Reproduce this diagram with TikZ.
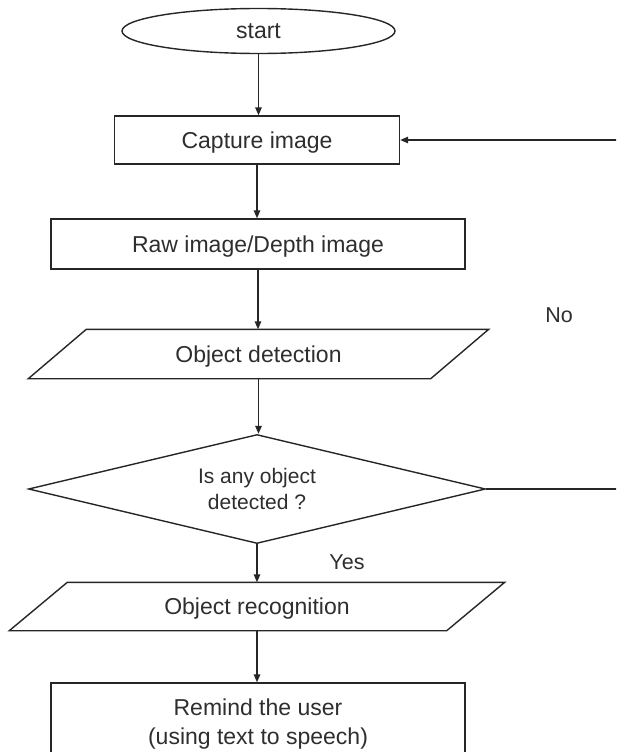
\documentclass[tikz,border=0pt]{standalone}
\usepackage{fontspec}
\setmainfont{Liberation Sans}
\usetikzlibrary{shapes.geometric,arrows.meta,calc}
\begin{document}
\begin{tikzpicture}[x=1pt,y=-1pt,
  line width=1.4pt,
  every node/.style={text=black!82, inner sep=0pt},
  arr/.style={draw=black!85, -{Triangle[length=8pt,width=6.5pt]}},
  ln/.style={draw=black!85},
  nodesc/.style={text depth=0pt},
  boxnode/.style={draw=black!85, rectangle, align=center, font=\fontsize{23}{29}\selectfont},
  startnode/.style={draw=black!85, ellipse, minimum width=273pt, minimum height=45pt, font=\fontsize{23}{29}\selectfont},
  paranode/.style={rectangle, align=center, font=\fontsize{23}{29}\selectfont},
  decnode/.style={draw=black!85, diamond, aspect=4.19, minimum width=457pt, minimum height=109pt, align=center, font=\fontsize{21}{26}\selectfont},
  lbl/.style={font=\fontsize{21.5}{26}\selectfont}
]
\useasboundingbox (0,0) rectangle (616,752);
\clip (0,0) rectangle (616,752);

\node[startnode] (start) at (258.5,31) {start};
\node[boxnode, nodesc, minimum width=285pt, minimum height=48pt] (cap) at (257,140) {Capture image};
\node[boxnode, nodesc, minimum width=414pt, minimum height=50pt] (raw) at (258,244) {Raw image/Depth image};
\node[paranode, nodesc, minimum width=343pt, minimum height=48pt] (det) at (258.5,354) {Object detection};
\node[decnode] (dec) at (257,489) {Is any object\\detected ?};
\node[paranode, nodesc, minimum width=378pt, minimum height=47pt] (rec) at (257,606.5) {Object recognition};
\node[boxnode, minimum width=414pt, minimum height=83pt] (rem) at (258,724.5) {Remind the user\\(using text to speech)};

% parallelogram outlines
\draw[ln, line join=miter] (det.north west) -- ([xshift=58pt]det.north east) -- (det.south east) -- ([xshift=-58pt]det.south west) -- cycle;
\draw[ln, line join=miter] (rec.north west) -- ([xshift=58pt]rec.north east) -- (rec.south east) -- ([xshift=-58pt]rec.south west) -- cycle;

\node[lbl] (no) at (559,315) {No};
\node[lbl] (yes) at (347,562) {Yes};

\coordinate (capin) at (617,140);
\coordinate (decout) at (617,489);

\draw[arr] (start.south) -- (start.south |- cap.north);
\draw[arr] (cap.south) -- (cap.south |- raw.north);
\draw[arr] (raw.south) -- (raw.south |- det.north);
\draw[arr] (det.south) -- (det.south |- dec.north);
\draw[arr] (dec.south) -- (dec.south |- rec.north);
\draw[arr] (rec.south) -- (rec.south |- rem.north);
\draw[arr] (capin) -- (cap.east);
\draw[ln] (dec.east) -- (decout);
\end{tikzpicture}
\end{document}
